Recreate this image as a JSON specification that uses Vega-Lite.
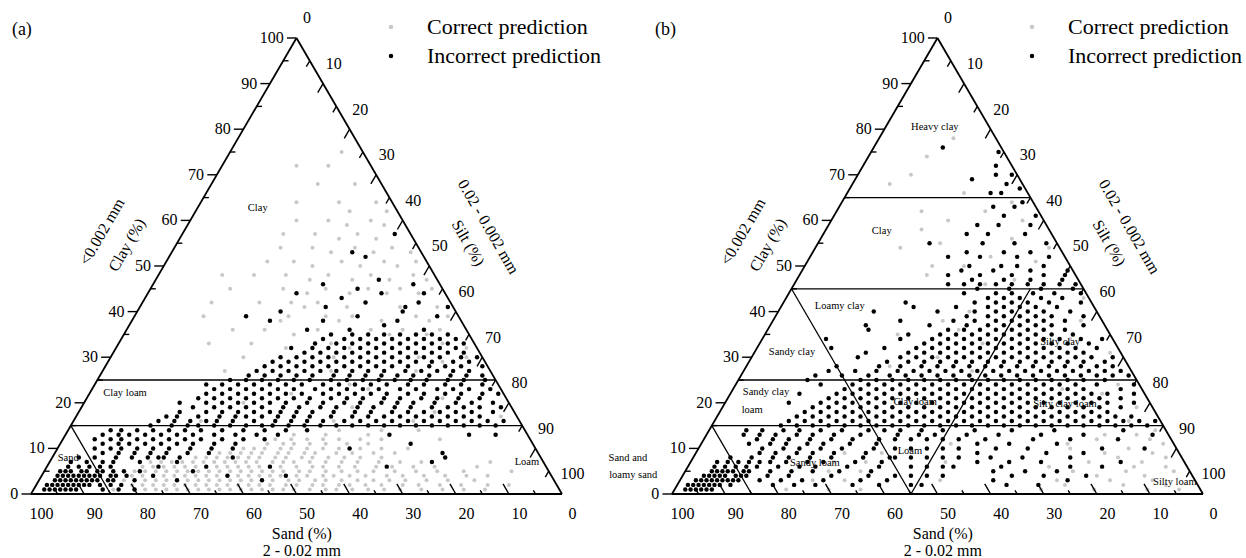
{
"$schema": "https://vega.github.io/schema/vega-lite/v6.json",
"padding": 0,
"background": "white",
"bounds": "flush",
"spacing": 19,
"config": {"view": {"stroke": null}, "font": "Liberation Serif", "text": {"font": "Liberation Serif"}},
"resolve": {"scale": {"color": "independent"}},
"datasets": {
"edges": [{"s":100,"c":0,"s2":0,"c2":100},{"s":0,"c":100,"s2":0,"c2":0},{"s":0,"c":0,"s2":100,"c2":0}],
"linesA": [{"s":85,"c":15,"s2":0,"c2":15},{"s":75,"c":25,"s2":0,"c2":25},{"s":85,"c":15,"s2":85,"c2":0}],
"linesB": [{"s":35,"c":65,"s2":0,"c2":65},{"s":55,"c":45,"s2":0,"c2":45},{"s":75,"c":25,"s2":0,"c2":25},{"s":85,"c":15,"s2":0,"c2":15},{"s":85,"c":15,"s2":85,"c2":0},{"s":55,"c":45,"s2":55,"c2":0},{"s":55,"c":0,"s2":10,"c2":45}],
"ticks": [
{"s":100,"c":0,"s2":101.8,"c2":0},{"s":90,"c":10,"s2":91.8,"c2":10},{"s":80,"c":20,"s2":81.8,"c2":20},{"s":70,"c":30,"s2":71.8,"c2":30},{"s":60,"c":40,"s2":61.8,"c2":40},{"s":50,"c":50,"s2":51.8,"c2":50},{"s":40,"c":60,"s2":41.8,"c2":60},{"s":30,"c":70,"s2":31.8,"c2":70},{"s":20,"c":80,"s2":21.8,"c2":80},{"s":10,"c":90,"s2":11.8,"c2":90},{"s":0,"c":100,"s2":1.8,"c2":100},
{"s":95,"c":5,"s2":94,"c2":5},{"s":85,"c":15,"s2":84,"c2":15},{"s":75,"c":25,"s2":74,"c2":25},{"s":65,"c":35,"s2":64,"c2":35},{"s":55,"c":45,"s2":54,"c2":45},{"s":45,"c":55,"s2":44,"c2":55},{"s":35,"c":65,"s2":34,"c2":65},{"s":25,"c":75,"s2":24,"c2":75},{"s":15,"c":85,"s2":14,"c2":85},{"s":5,"c":95,"s2":4,"c2":95},
{"s":0,"c":95,"s2":1.3,"c2":93.7},{"s":0,"c":90,"s2":2,"c2":88},{"s":0,"c":85,"s2":1.3,"c2":83.7},{"s":0,"c":80,"s2":2,"c2":78},{"s":0,"c":75,"s2":1.3,"c2":73.7},{"s":0,"c":70,"s2":2,"c2":68},{"s":0,"c":65,"s2":1.3,"c2":63.7},{"s":0,"c":60,"s2":2,"c2":58},{"s":0,"c":55,"s2":1.3,"c2":53.7},{"s":0,"c":50,"s2":2,"c2":48},{"s":0,"c":45,"s2":1.3,"c2":43.7},{"s":0,"c":40,"s2":2,"c2":38},{"s":0,"c":35,"s2":1.3,"c2":33.7},{"s":0,"c":30,"s2":2,"c2":28},{"s":0,"c":25,"s2":1.3,"c2":23.7},{"s":0,"c":20,"s2":2,"c2":18},{"s":0,"c":15,"s2":1.3,"c2":13.7},{"s":0,"c":10,"s2":2,"c2":8},{"s":0,"c":5,"s2":1.3,"c2":3.7},
{"s":10,"c":0,"s2":10,"c2":2.2},{"s":20,"c":0,"s2":20,"c2":2.2},{"s":30,"c":0,"s2":30,"c2":2.2},{"s":40,"c":0,"s2":40,"c2":2.2},{"s":50,"c":0,"s2":50,"c2":2.2},{"s":60,"c":0,"s2":60,"c2":2.2},{"s":70,"c":0,"s2":70,"c2":2.2},{"s":80,"c":0,"s2":80,"c2":2.2},{"s":90,"c":0,"s2":90,"c2":2.2},
{"s":5,"c":0,"s2":5,"c2":0.8},{"s":15,"c":0,"s2":15,"c2":0.8},{"s":25,"c":0,"s2":25,"c2":0.8},{"s":35,"c":0,"s2":35,"c2":0.8},{"s":45,"c":0,"s2":45,"c2":0.8},{"s":55,"c":0,"s2":55,"c2":0.8},{"s":65,"c":0,"s2":65,"c2":0.8},{"s":75,"c":0,"s2":75,"c2":0.8},{"s":85,"c":0,"s2":85,"c2":0.8},{"s":95,"c":0,"s2":95,"c2":0.8}],
"tlL": [{"t":"0","x":-2.4,"y":0},{"t":"10","x":2.6,"y":10},{"t":"20","x":7.6,"y":20},{"t":"30","x":12.6,"y":30},{"t":"40","x":17.6,"y":40},{"t":"50","x":22.6,"y":50},{"t":"60","x":27.6,"y":60},{"t":"70","x":32.6,"y":70},{"t":"80","x":37.6,"y":80},{"t":"90","x":42.6,"y":90},{"t":"100","x":47.6,"y":100}],
"tlR": [{"t":"0","x":52,"y":104.3},{"t":"10","x":57,"y":94.3},{"t":"20","x":62,"y":84.3},{"t":"30","x":67,"y":74.3},{"t":"40","x":72,"y":64.3},{"t":"50","x":77,"y":54.3},{"t":"60","x":82,"y":44.3},{"t":"70","x":87,"y":34.3},{"t":"80","x":92,"y":24.3},{"t":"90","x":97,"y":14.3},{"t":"100","x":102,"y":4.3}],
"tlB": [{"t":"100","x":2,"y":-4.3},{"t":"90","x":12,"y":-4.3},{"t":"80","x":22,"y":-4.3},{"t":"70","x":32,"y":-4.3},{"t":"60","x":42,"y":-4.3},{"t":"50","x":52,"y":-4.3},{"t":"40","x":62,"y":-4.3},{"t":"30","x":72,"y":-4.3},{"t":"20","x":82,"y":-4.3},{"t":"10","x":92,"y":-4.3},{"t":"0","x":102,"y":-4.3}],
"ttB": [{"t":"Sand (%)","x":51,"y":-8.7},{"t":"2 - 0.02 mm","x":51,"y":-12.5}],
"ttL": [{"t":"Clay (%)","x":18.1,"y":54.6},{"t":"<0.002 mm","x":13.4,"y":57.5}],
"ttR": [{"t":"Silt (%)","x":82.3,"y":55.0},{"t":"0.02 - 0.002 mm","x":86.1,"y":58.6}],
"regA": [{"t":"Clay","x":42.7,"y":62.7},{"t":"Clay loam","x":17.7,"y":22.1},{"t":"Sand","x":7.0,"y":7.9},{"t":"Loam","x":93.4,"y":7.0}],
"regB": [{"t":"Heavy clay","x":49.5,"y":80.5},{"t":"Clay","x":39.5,"y":57.7},{"t":"Loamy clay","x":31.6,"y":41.2},{"t":"Sandy clay","x":22.6,"y":31.1},{"t":"Sandy clay","x":17.7,"y":22.4},{"t":"loam","x":15.1,"y":18.4},{"t":"Clay loam","x":45.8,"y":20.2},{"t":"Silty clay","x":73.1,"y":33.3},{"t":"Silty clay loam","x":74.0,"y":19.7},{"t":"Loam","x":44.8,"y":9.4},{"t":"Sandy loam","x":26.9,"y":6.8},{"t":"Silty loam","x":94.7,"y":2.6},{"t":"Sand and","x":-8.3,"y":7.9},{"t":"loamy sand","x":-7.3,"y":4.2}],
"tagA": [{"t":"(a)","x":-3.6,"y":101.8}],
"tagB": [{"t":"(b)","x":-3.2,"y":101.8}],
"aC": [
{"s":84,"c":1},{"s":80,"c":1},{"s":76,"c":1},{"s":72,"c":1},{"s":68,"c":1},{"s":64,"c":1},{"s":60,"c":1},{"s":56,"c":1},{"s":52,"c":1},{"s":47,"c":1},{"s":42,"c":1},{"s":36,"c":1},{"s":30,"c":1},{"s":22,"c":1},{"s":14,"c":1},
{"s":86,"c":1},{"s":78,"c":1},{"s":74,"c":1},{"s":70,"c":1},{"s":66,"c":1},{"s":62,"c":1},{"s":58,"c":1},{"s":54,"c":1},{"s":50,"c":1},{"s":44,"c":1},{"s":39,"c":1},{"s":33,"c":1},{"s":26,"c":1},{"s":18,"c":1},
{"s":82,"c":2},{"s":78,"c":2},{"s":74,"c":2},{"s":70,"c":2},{"s":66,"c":2},{"s":62,"c":2},{"s":58,"c":2},{"s":54,"c":2},{"s":49,"c":2},{"s":44,"c":2},{"s":39,"c":2},{"s":33,"c":2},{"s":26,"c":2},{"s":18,"c":2},{"s":9,"c":2},
{"s":80,"c":2},{"s":76,"c":2},{"s":72,"c":2},{"s":68,"c":2},{"s":64,"c":2},{"s":60,"c":2},{"s":56,"c":2},{"s":51,"c":2},{"s":46,"c":2},{"s":41,"c":2},{"s":36,"c":2},{"s":29,"c":2},{"s":22,"c":2},{"s":13,"c":2},
{"s":81,"c":3},{"s":77,"c":3},{"s":73,"c":3},{"s":69,"c":3},{"s":65,"c":3},{"s":61,"c":3},{"s":57,"c":3},{"s":53,"c":3},{"s":48,"c":3},{"s":43,"c":3},{"s":37,"c":3},{"s":31,"c":3},{"s":24,"c":3},{"s":15,"c":3},
{"s":79,"c":3},{"s":75,"c":3},{"s":71,"c":3},{"s":67,"c":3},{"s":63,"c":3},{"s":59,"c":3},{"s":55,"c":3},{"s":50,"c":3},{"s":45,"c":3},{"s":40,"c":3},{"s":34,"c":3},{"s":28,"c":3},{"s":20,"c":3},
{"s":79,"c":4},{"s":75,"c":4},{"s":71,"c":4},{"s":67,"c":4},{"s":63,"c":4},{"s":59,"c":4},{"s":55,"c":4},{"s":51,"c":4},{"s":46,"c":4},{"s":41,"c":4},{"s":35,"c":4},{"s":28,"c":4},{"s":20,"c":4},{"s":12,"c":4},
{"s":77,"c":4},{"s":73,"c":4},{"s":69,"c":4},{"s":65,"c":4},{"s":61,"c":4},{"s":57,"c":4},{"s":53,"c":4},{"s":48,"c":4},{"s":43,"c":4},{"s":38,"c":4},{"s":31,"c":4},{"s":24,"c":4},{"s":16,"c":4},
{"s":78,"c":5},{"s":74,"c":5},{"s":70,"c":5},{"s":66,"c":5},{"s":62,"c":5},{"s":58,"c":5},{"s":54,"c":5},{"s":50,"c":5},{"s":45,"c":5},{"s":39,"c":5},{"s":33,"c":5},{"s":25,"c":5},{"s":16,"c":5},{"s":7,"c":5},
{"s":76,"c":5},{"s":72,"c":5},{"s":68,"c":5},{"s":64,"c":5},{"s":60,"c":5},{"s":56,"c":5},{"s":52,"c":5},{"s":47,"c":5},{"s":42,"c":5},{"s":36,"c":5},{"s":29,"c":5},{"s":21,"c":5},
{"s":76,"c":6},{"s":72,"c":6},{"s":68,"c":6},{"s":64,"c":6},{"s":60,"c":6},{"s":56,"c":6},{"s":52,"c":6},{"s":47,"c":6},{"s":42,"c":6},{"s":36,"c":6},{"s":29,"c":6},{"s":21,"c":6},{"s":13,"c":6},
{"s":74,"c":6},{"s":70,"c":6},{"s":66,"c":6},{"s":62,"c":6},{"s":58,"c":6},{"s":54,"c":6},{"s":50,"c":6},{"s":44,"c":6},{"s":39,"c":6},{"s":32,"c":6},{"s":25,"c":6},
{"s":74,"c":7},{"s":70,"c":7},{"s":66,"c":7},{"s":62,"c":7},{"s":58,"c":7},{"s":54,"c":7},{"s":49,"c":7},{"s":44,"c":7},{"s":38,"c":7},{"s":31,"c":7},{"s":23,"c":7},{"s":10,"c":7},
{"s":72,"c":7},{"s":68,"c":7},{"s":64,"c":7},{"s":60,"c":7},{"s":56,"c":7},{"s":51,"c":7},{"s":47,"c":7},{"s":41,"c":7},{"s":35,"c":7},{"s":27,"c":7},
{"s":65,"c":8},{"s":61,"c":8},{"s":57,"c":8},{"s":53,"c":8},{"s":48,"c":8},{"s":43,"c":8},{"s":37,"c":8},{"s":30,"c":8},{"s":18,"c":8},
{"s":63,"c":8},{"s":59,"c":8},{"s":55,"c":8},{"s":50,"c":8},{"s":45,"c":8},{"s":40,"c":8},{"s":34,"c":8},
{"s":60,"c":9},{"s":56,"c":9},{"s":52,"c":9},{"s":47,"c":9},{"s":42,"c":9},{"s":35,"c":9},{"s":27,"c":9},
{"s":58,"c":9},{"s":54,"c":9},{"s":49,"c":9},{"s":44,"c":9},{"s":38,"c":9},{"s":31,"c":9},
{"s":55,"c":10},{"s":51,"c":10},{"s":46,"c":10},{"s":40,"c":10},{"s":33,"c":10},{"s":24,"c":10},
{"s":53,"c":10},{"s":48,"c":10},{"s":43,"c":10},{"s":37,"c":10},{"s":29,"c":10},
{"s":50,"c":11},{"s":45,"c":11},{"s":39,"c":11},{"s":31,"c":11},{"s":47,"c":11},{"s":42,"c":11},{"s":35,"c":11},
{"s":48,"c":12},{"s":42,"c":12},{"s":36,"c":12},{"s":28,"c":12},{"s":17,"c":12},{"s":45,"c":12},{"s":39,"c":12},{"s":32,"c":12},
{"s":44,"c":13},{"s":38,"c":13},{"s":30,"c":13},{"s":35,"c":14},{"s":27,"c":14},{"s":20,"c":14},
{"s":60,"c":16},{"s":45,"c":17},{"s":30,"c":19},{"s":15,"c":18},{"s":5,"c":21},{"s":40,"c":22},{"s":25,"c":23},{"s":50,"c":20},{"s":10,"c":24},{"s":35,"c":16},
{"s":55,"c":18},{"s":42,"c":20},{"s":20,"c":16},{"s":12,"c":21},{"s":28,"c":24},{"s":38,"c":18},{"s":48,"c":23},{"s":3,"c":17},
{"s":50,"c":27},{"s":30,"c":27},{"s":14,"c":27},{"s":40,"c":29},{"s":22,"c":29},{"s":8,"c":29},{"s":45,"c":30},{"s":28,"c":30},{"s":12,"c":30},{"s":3,"c":30},
{"s":36,"c":32},{"s":24,"c":32},{"s":10,"c":32},{"s":2,"c":32},
{"s":42,"c":33},{"s":27,"c":33},{"s":20,"c":33},{"s":6,"c":33},{"s":50,"c":33},
{"s":33,"c":35},{"s":22,"c":35},{"s":15,"c":35},{"s":8,"c":35},
{"s":38,"c":36},{"s":28,"c":36},{"s":18,"c":36},{"s":5,"c":36},{"s":12,"c":36},{"s":44,"c":36},
{"s":34,"c":38},{"s":23,"c":38},{"s":15,"c":38},{"s":6,"c":38},
{"s":40,"c":39},{"s":32,"c":39},{"s":20,"c":39},{"s":8,"c":39},{"s":2,"c":39},{"s":25,"c":39},{"s":48,"c":39},
{"s":28,"c":41},{"s":20,"c":41},{"s":10,"c":41},{"s":3,"c":41},
{"s":36,"c":42},{"s":25,"c":42},{"s":16,"c":42},{"s":6,"c":42},{"s":30,"c":42},{"s":45,"c":42},
{"s":26,"c":44},{"s":18,"c":44},{"s":11,"c":44},{"s":5,"c":44},
{"s":30,"c":45},{"s":22,"c":45},{"s":14,"c":45},{"s":8,"c":45},{"s":2,"c":45},{"s":40,"c":45},
{"s":24,"c":47},{"s":16,"c":47},{"s":9,"c":47},{"s":2,"c":47},
{"s":28,"c":48},{"s":20,"c":48},{"s":12,"c":48},{"s":4,"c":48},{"s":34,"c":48},{"s":40,"c":48},
{"s":22,"c":50},{"s":13,"c":50},{"s":6,"c":50},
{"s":25,"c":51},{"s":16,"c":51},{"s":8,"c":51},{"s":2,"c":51},{"s":30,"c":51},
{"s":17,"c":53},{"s":9,"c":53},{"s":2,"c":53},
{"s":20,"c":54},{"s":12,"c":54},{"s":5,"c":54},{"s":26,"c":54},
{"s":14,"c":56},{"s":7,"c":56},
{"s":18,"c":57},{"s":10,"c":57},{"s":3,"c":57},{"s":24,"c":57},
{"s":11,"c":59},{"s":4,"c":59},
{"s":14,"c":60},{"s":6,"c":60},{"s":20,"c":60},{"s":9,"c":62},{"s":2,"c":62},{"s":10,"c":64},{"s":3,"c":64},{"s":18,"c":64},
{"s":12,"c":68},{"s":5,"c":68},{"s":8,"c":72},{"s":14,"c":72},{"s":4,"c":75}],
"aI": [
{"s":80,"c":1},{"s":83,"c":1},{"s":86,"c":1},{"s":91,"c":1},{"s":92,"c":1},{"s":93,"c":1},{"s":94,"c":1},{"s":95,"c":1},{"s":96,"c":1},{"s":97,"c":1},
{"s":82,"c":2},{"s":84,"c":2},{"s":86,"c":2},{"s":88,"c":2},{"s":89,"c":2},{"s":90,"c":2},{"s":91,"c":2},{"s":92,"c":2},{"s":93,"c":2},{"s":94,"c":2},{"s":95,"c":2},{"s":96,"c":2},
{"s":79,"c":3},{"s":71,"c":3},{"s":55,"c":3},{"s":83,"c":3},{"s":84,"c":3},{"s":86,"c":3},{"s":87,"c":3},{"s":88,"c":3},{"s":89,"c":3},{"s":90,"c":3},{"s":91,"c":3},{"s":92,"c":3},{"s":93,"c":3},{"s":94,"c":3},
{"s":75,"c":4},{"s":61,"c":4},{"s":80,"c":4},{"s":82,"c":4},{"s":83,"c":4},{"s":85,"c":4},{"s":86,"c":4},{"s":87,"c":4},{"s":88,"c":4},{"s":89,"c":4},{"s":90,"c":4},{"s":91,"c":4},{"s":92,"c":4},{"s":93,"c":4},{"s":50,"c":4},
{"s":77,"c":5},{"s":67,"c":5},{"s":80,"c":5},{"s":82,"c":5},{"s":84,"c":5},{"s":85,"c":5},{"s":87,"c":5},{"s":88,"c":5},{"s":90,"c":5},{"s":91,"c":5},{"s":92,"c":5},
{"s":73,"c":6},{"s":64,"c":6},{"s":52,"c":6},{"s":82,"c":6},{"s":84,"c":6},{"s":86,"c":6},{"s":88,"c":6},{"s":90,"c":6},{"s":30,"c":6},
{"s":69,"c":7},{"s":76,"c":7},{"s":81,"c":7},{"s":83,"c":7},{"s":86,"c":7},{"s":89,"c":7},{"s":21,"c":7},
{"s":58,"c":8},{"s":72,"c":8},{"s":80,"c":8},{"s":84,"c":8},{"s":87,"c":8},{"s":77,"c":8},{"s":74,"c":8},{"s":71,"c":8},{"s":68,"c":8},{"s":18,"c":8},
{"s":82,"c":9},{"s":79,"c":9},{"s":76,"c":9},{"s":73,"c":9},{"s":70,"c":9},{"s":66,"c":9},{"s":62,"c":9},{"s":18,"c":9},
{"s":83,"c":10},{"s":80,"c":10},{"s":78,"c":10},{"s":75,"c":10},{"s":72,"c":10},{"s":69,"c":10},{"s":65,"c":10},{"s":61,"c":10},{"s":57,"c":10},{"s":35,"c":10},
{"s":81,"c":11},{"s":78,"c":11},{"s":76,"c":11},{"s":73,"c":11},{"s":70,"c":11},{"s":67,"c":11},{"s":64,"c":11},{"s":60,"c":11},{"s":56,"c":11},{"s":23,"c":11},
{"s":82,"c":12},{"s":79,"c":12},{"s":77,"c":12},{"s":74,"c":12},{"s":71,"c":12},{"s":68,"c":12},{"s":65,"c":12},{"s":62,"c":12},{"s":58,"c":12},{"s":54,"c":12},{"s":50,"c":12},
{"s":80,"c":13},{"s":77,"c":13},{"s":75,"c":13},{"s":72,"c":13},{"s":69,"c":13},{"s":66,"c":13},{"s":63,"c":13},{"s":59,"c":13},{"s":55,"c":13},{"s":51,"c":13},{"s":47,"c":13},{"s":11,"c":13},{"s":6,"c":13},{"s":26,"c":13},
{"s":78,"c":14},{"s":76,"c":14},{"s":73,"c":14},{"s":70,"c":14},{"s":67,"c":14},{"s":64,"c":14},{"s":61,"c":14},{"s":57,"c":14},{"s":53,"c":14},{"s":49,"c":14},{"s":45,"c":14},{"s":41,"c":14},
{"s":70,"c":15},{"s":66,"c":15},{"s":63,"c":15},{"s":61,"c":15},{"s":58,"c":15},{"s":55,"c":15},{"s":52,"c":15},{"s":49,"c":15},{"s":47,"c":15},{"s":44,"c":15},{"s":41,"c":15},{"s":38,"c":15},{"s":35,"c":15},{"s":32,"c":15},{"s":29,"c":15},{"s":26,"c":15},{"s":23,"c":15},{"s":20,"c":15},{"s":17,"c":15},{"s":14,"c":15},{"s":11,"c":15},{"s":8,"c":15},{"s":5,"c":15},
{"s":68,"c":16},{"s":65,"c":16},{"s":62,"c":16},{"s":59,"c":16},{"s":57,"c":16},{"s":54,"c":16},{"s":50,"c":16},{"s":46,"c":16},{"s":43,"c":16},{"s":40,"c":16},{"s":37,"c":16},{"s":33,"c":16},{"s":30,"c":16},{"s":27,"c":16},{"s":24,"c":16},{"s":21,"c":16},{"s":18,"c":16},{"s":15,"c":16},{"s":12,"c":16},{"s":9,"c":16},{"s":6,"c":16},{"s":3,"c":16},
{"s":66,"c":17},{"s":64,"c":17},{"s":60,"c":17},{"s":56,"c":17},{"s":53,"c":17},{"s":51,"c":17},{"s":48,"c":17},{"s":45,"c":17},{"s":42,"c":17},{"s":39,"c":17},{"s":35,"c":17},{"s":31,"c":17},{"s":28,"c":17},{"s":25,"c":17},{"s":22,"c":17},{"s":19,"c":17},{"s":16,"c":17},{"s":13,"c":17},{"s":10,"c":17},{"s":7,"c":17},
{"s":63,"c":18},{"s":58,"c":18},{"s":55,"c":18},{"s":52,"c":18},{"s":49,"c":18},{"s":46,"c":18},{"s":44,"c":18},{"s":41,"c":18},{"s":38,"c":18},{"s":34,"c":18},{"s":30,"c":18},{"s":27,"c":18},{"s":23,"c":18},{"s":20,"c":18},{"s":17,"c":18},{"s":14,"c":18},{"s":11,"c":18},{"s":8,"c":18},{"s":4,"c":18},
{"s":60,"c":19},{"s":56,"c":19},{"s":53,"c":19},{"s":50,"c":19},{"s":47,"c":19},{"s":43,"c":19},{"s":40,"c":19},{"s":36,"c":19},{"s":33,"c":19},{"s":29,"c":19},{"s":26,"c":19},{"s":22,"c":19},{"s":19,"c":19},{"s":15,"c":19},{"s":12,"c":19},{"s":9,"c":19},{"s":6,"c":19},{"s":2,"c":19},
{"s":62,"c":20},{"s":57,"c":20},{"s":54,"c":20},{"s":51,"c":20},{"s":48,"c":20},{"s":45,"c":20},{"s":42,"c":20},{"s":38,"c":20},{"s":35,"c":20},{"s":31,"c":20},{"s":28,"c":20},{"s":24,"c":20},{"s":21,"c":20},{"s":18,"c":20},{"s":14,"c":20},{"s":10,"c":20},{"s":7,"c":20},{"s":3,"c":20},
{"s":58,"c":21},{"s":55,"c":21},{"s":52,"c":21},{"s":49,"c":21},{"s":46,"c":21},{"s":43,"c":21},{"s":40,"c":21},{"s":37,"c":21},{"s":33,"c":21},{"s":30,"c":21},{"s":27,"c":21},{"s":23,"c":21},{"s":20,"c":21},{"s":16,"c":21},{"s":13,"c":21},{"s":9,"c":21},{"s":5,"c":21},
{"s":56,"c":22},{"s":53,"c":22},{"s":50,"c":22},{"s":47,"c":22},{"s":44,"c":22},{"s":41,"c":22},{"s":38,"c":22},{"s":34,"c":22},{"s":31,"c":22},{"s":28,"c":22},{"s":25,"c":22},{"s":22,"c":22},{"s":18,"c":22},{"s":15,"c":22},{"s":11,"c":22},{"s":8,"c":22},{"s":4,"c":22},{"s":1,"c":22},
{"s":54,"c":23},{"s":51,"c":23},{"s":48,"c":23},{"s":45,"c":23},{"s":42,"c":23},{"s":39,"c":23},{"s":35,"c":23},{"s":32,"c":23},{"s":29,"c":23},{"s":26,"c":23},{"s":23,"c":23},{"s":19,"c":23},{"s":16,"c":23},{"s":12,"c":23},{"s":9,"c":23},{"s":6,"c":23},{"s":2,"c":23},
{"s":55,"c":24},{"s":52,"c":24},{"s":49,"c":24},{"s":46,"c":24},{"s":43,"c":24},{"s":40,"c":24},{"s":37,"c":24},{"s":33,"c":24},{"s":30,"c":24},{"s":27,"c":24},{"s":24,"c":24},{"s":21,"c":24},{"s":17,"c":24},{"s":14,"c":24},{"s":10,"c":24},{"s":7,"c":24},{"s":3,"c":24},
{"s":50,"c":25},{"s":47,"c":25},{"s":44,"c":25},{"s":41,"c":25},{"s":38,"c":25},{"s":35,"c":25},{"s":31,"c":25},{"s":28,"c":25},{"s":25,"c":25},{"s":22,"c":25},{"s":19,"c":25},{"s":16,"c":25},{"s":13,"c":25},{"s":9,"c":25},{"s":6,"c":25},{"s":2,"c":25},
{"s":46,"c":26},{"s":43,"c":26},{"s":40,"c":26},{"s":37,"c":26},{"s":34,"c":26},{"s":30,"c":26},{"s":27,"c":26},{"s":24,"c":26},{"s":21,"c":26},{"s":18,"c":26},{"s":15,"c":26},{"s":12,"c":26},{"s":8,"c":26},{"s":5,"c":26},{"s":2,"c":26},
{"s":44,"c":27},{"s":41,"c":27},{"s":38,"c":27},{"s":35,"c":27},{"s":32,"c":27},{"s":29,"c":27},{"s":26,"c":27},{"s":23,"c":27},{"s":20,"c":27},{"s":16,"c":27},{"s":13,"c":27},{"s":10,"c":27},{"s":7,"c":27},{"s":4,"c":27},
{"s":42,"c":28},{"s":39,"c":28},{"s":36,"c":28},{"s":33,"c":28},{"s":30,"c":28},{"s":27,"c":28},{"s":24,"c":28},{"s":21,"c":28},{"s":18,"c":28},{"s":15,"c":28},{"s":11,"c":28},{"s":8,"c":28},{"s":5,"c":28},{"s":1,"c":28},
{"s":40,"c":29},{"s":37,"c":29},{"s":34,"c":29},{"s":31,"c":29},{"s":28,"c":29},{"s":25,"c":29},{"s":22,"c":29},{"s":19,"c":29},{"s":16,"c":29},{"s":13,"c":29},{"s":10,"c":29},{"s":6,"c":29},{"s":3,"c":29},
{"s":38,"c":30},{"s":35,"c":30},{"s":32,"c":30},{"s":29,"c":30},{"s":26,"c":30},{"s":23,"c":30},{"s":20,"c":30},{"s":17,"c":30},{"s":14,"c":30},{"s":11,"c":30},{"s":8,"c":30},{"s":4,"c":30},{"s":1,"c":30},
{"s":33,"c":31},{"s":30,"c":31},{"s":27,"c":31},{"s":24,"c":31},{"s":21,"c":31},{"s":18,"c":31},{"s":15,"c":31},{"s":12,"c":31},{"s":9,"c":31},{"s":6,"c":31},{"s":3,"c":31},
{"s":35,"c":32},{"s":31,"c":32},{"s":28,"c":32},{"s":25,"c":32},{"s":22,"c":32},{"s":19,"c":32},{"s":16,"c":32},{"s":13,"c":32},{"s":10,"c":32},{"s":7,"c":32},{"s":4,"c":32},
{"s":30,"c":33},{"s":26,"c":33},{"s":23,"c":33},{"s":20,"c":33},{"s":17,"c":33},{"s":14,"c":33},{"s":11,"c":33},{"s":8,"c":33},{"s":5,"c":33},{"s":2,"c":33},
{"s":28,"c":34},{"s":24,"c":34},{"s":21,"c":34},{"s":18,"c":34},{"s":15,"c":34},{"s":12,"c":34},{"s":9,"c":34},{"s":6,"c":34},{"s":3,"c":34},
{"s":26,"c":35},{"s":22,"c":35},{"s":19,"c":35},{"s":16,"c":35},{"s":13,"c":35},{"s":10,"c":35},{"s":7,"c":35},{"s":4,"c":35},
{"s":30,"c":36},{"s":22,"c":36},{"s":15,"c":37},{"s":8,"c":36},{"s":26,"c":38},{"s":12,"c":38},{"s":36,"c":38},{"s":4,"c":39},{"s":19,"c":39},{"s":40,"c":39},{"s":33,"c":40},{"s":10,"c":40},{"s":9,"c":41},{"s":24,"c":41},{"s":1,"c":41},{"s":16,"c":42},{"s":6,"c":42},{"s":20,"c":43},{"s":12,"c":44},{"s":28,"c":44},{"s":4,"c":44},
{"s":22,"c":46},{"s":13,"c":53},{"s":11,"c":47},{"s":16,"c":45},{"s":5,"c":46},{"s":3,"c":57},{"s":11,"c":52}],
"bC": [
{"s":30,"c":1},{"s":20,"c":1},{"s":10,"c":1},{"s":4,"c":1},{"s":26,"c":3},{"s":16,"c":3},{"s":8,"c":3},{"s":22,"c":5},{"s":12,"c":5},{"s":3,"c":5},{"s":18,"c":7},{"s":8,"c":7},{"s":14,"c":9},{"s":5,"c":9},{"s":20,"c":11},{"s":2,"c":11},{"s":12,"c":13},{"s":6,"c":13},
{"s":25,"c":2},{"s":14,"c":2},{"s":6,"c":2},{"s":18,"c":4},{"s":9,"c":4},{"s":26,"c":6},{"s":10,"c":6},{"s":4,"c":6},{"s":12,"c":8},{"s":3,"c":8},{"s":20,"c":10},{"s":9,"c":10},{"s":4,"c":12},{"s":14,"c":12},{"s":2,"c":14},
{"s":78,"c":1},{"s":70,"c":1},{"s":64,"c":1},{"s":72,"c":3},{"s":66,"c":3},{"s":68,"c":5},{"s":62,"c":5},{"s":66,"c":7},{"s":60,"c":7},{"s":63,"c":9},{"s":56,"c":9},
{"s":48,"c":3},{"s":45,"c":7},{"s":42,"c":11},
{"s":6,"c":16},{"s":3,"c":19},{"s":8,"c":22},{"s":4,"c":24},{"s":12,"c":18},{"s":15,"c":23},
{"s":5,"c":27},{"s":2,"c":31},{"s":8,"c":34},{"s":4,"c":38},{"s":10,"c":40},{"s":1,"c":43},{"s":6,"c":30},{"s":12,"c":36},
{"s":28,"c":48},{"s":20,"c":50},{"s":14,"c":52},{"s":30,"c":54},{"s":8,"c":56},{"s":24,"c":58},{"s":18,"c":60},{"s":10,"c":62},{"s":4,"c":60},{"s":26,"c":50},{"s":22,"c":62},{"s":16,"c":57},
{"s":12,"c":47},{"s":6,"c":51},{"s":2,"c":54},{"s":18,"c":46},{"s":22,"c":55},{"s":4,"c":64},{"s":12,"c":66},
{"s":20,"c":70},{"s":15,"c":74},{"s":8,"c":78},{"s":25,"c":68},
{"s":35,"c":30},{"s":40,"c":35},{"s":30,"c":38},{"s":45,"c":28},{"s":25,"c":33},{"s":28,"c":36},{"s":24,"c":40},{"s":20,"c":32},{"s":30,"c":27}],
"bI": [
{"s":11,"c":76},{"s":1,"c":75},{"s":3,"c":72},{"s":1,"c":70},{"s":4,"c":70},{"s":9,"c":69},{"s":1,"c":67},{"s":5,"c":66},{"s":7,"c":66},{"s":3,"c":68},
{"s":2,"c":64},{"s":8,"c":63},{"s":4,"c":63},{"s":7,"c":61},{"s":1,"c":61},{"s":13,"c":59},{"s":9,"c":59},{"s":3,"c":59},{"s":16,"c":57},{"s":12,"c":57},{"s":5,"c":57},
{"s":24,"c":55},{"s":14,"c":55},{"s":8,"c":55},{"s":2,"c":55},{"s":18,"c":53},{"s":11,"c":53},{"s":6,"c":53},{"s":22,"c":52},{"s":16,"c":52},{"s":9,"c":52},{"s":3,"c":52},
{"s":19,"c":50},{"s":13,"c":50},{"s":10,"c":50},{"s":5,"c":50},{"s":21,"c":49},{"s":15,"c":49},{"s":8,"c":49},{"s":1,"c":49},{"s":24,"c":48},{"s":18,"c":48},{"s":12,"c":48},{"s":6,"c":48},{"s":2,"c":48},
{"s":20,"c":47},{"s":14,"c":47},{"s":9,"c":47},{"s":3,"c":47},{"s":25,"c":46},{"s":22,"c":46},{"s":19,"c":46},{"s":16,"c":46},{"s":13,"c":46},{"s":10,"c":46},{"s":7,"c":46},{"s":4,"c":46},{"s":1,"c":46},
{"s":20,"c":45},{"s":14,"c":45},{"s":8,"c":45},{"s":2,"c":45},
{"s":23,"c":44},{"s":17,"c":44},{"s":14,"c":44},{"s":10,"c":44},{"s":6,"c":44},{"s":1,"c":44},
{"s":19,"c":43},{"s":16,"c":43},{"s":13,"c":43},{"s":9,"c":43},{"s":5,"c":43},
{"s":35,"c":42},{"s":22,"c":42},{"s":18,"c":42},{"s":15,"c":42},{"s":12,"c":42},{"s":8,"c":42},{"s":2,"c":42},
{"s":34,"c":41},{"s":26,"c":41},{"s":20,"c":41},{"s":17,"c":41},{"s":14,"c":41},{"s":11,"c":41},{"s":7,"c":41},
{"s":42,"c":40},{"s":30,"c":40},{"s":23,"c":40},{"s":19,"c":40},{"s":16,"c":40},{"s":13,"c":40},{"s":10,"c":40},{"s":5,"c":40},
{"s":25,"c":39},{"s":21,"c":39},{"s":18,"c":39},{"s":15,"c":39},{"s":12,"c":39},{"s":9,"c":39},{"s":3,"c":39},
{"s":38,"c":38},{"s":28,"c":38},{"s":24,"c":38},{"s":20,"c":38},{"s":17,"c":38},{"s":14,"c":38},{"s":11,"c":38},{"s":7,"c":38},
{"s":45,"c":37},{"s":33,"c":37},{"s":26,"c":37},{"s":22,"c":37},{"s":19,"c":37},{"s":16,"c":37},{"s":13,"c":37},{"s":10,"c":37},{"s":4,"c":37},
{"s":45,"c":36},{"s":30,"c":36},{"s":27,"c":36},{"s":24,"c":36},{"s":21,"c":36},{"s":18,"c":36},{"s":15,"c":36},{"s":12,"c":36},{"s":8,"c":36},
{"s":38,"c":35},{"s":32,"c":35},{"s":29,"c":35},{"s":26,"c":35},{"s":23,"c":35},{"s":20,"c":35},{"s":17,"c":35},{"s":14,"c":35},{"s":11,"c":35},{"s":7,"c":35},
{"s":54,"c":34},{"s":40,"c":34},{"s":34,"c":34},{"s":31,"c":34},{"s":28,"c":34},{"s":25,"c":34},{"s":22,"c":34},{"s":19,"c":34},{"s":16,"c":34},{"s":13,"c":34},{"s":10,"c":34},{"s":6,"c":34},{"s":2,"c":34},
{"s":36,"c":33},{"s":33,"c":33},{"s":30,"c":33},{"s":27,"c":33},{"s":24,"c":33},{"s":21,"c":33},{"s":18,"c":33},{"s":15,"c":33},{"s":12,"c":33},{"s":9,"c":33},{"s":5,"c":33},
{"s":54,"c":32},{"s":44,"c":32},{"s":38,"c":32},{"s":35,"c":32},{"s":32,"c":32},{"s":29,"c":32},{"s":26,"c":32},{"s":23,"c":32},{"s":20,"c":32},{"s":17,"c":32},{"s":14,"c":32},{"s":11,"c":32},{"s":8,"c":32},{"s":4,"c":32},
{"s":48,"c":31},{"s":40,"c":31},{"s":37,"c":31},{"s":34,"c":31},{"s":31,"c":31},{"s":28,"c":31},{"s":25,"c":31},{"s":22,"c":31},{"s":19,"c":31},{"s":16,"c":31},{"s":13,"c":31},{"s":10,"c":31},{"s":7,"c":31},
{"s":50,"c":30},{"s":42,"c":30},{"s":39,"c":30},{"s":36,"c":30},{"s":33,"c":30},{"s":30,"c":30},{"s":27,"c":30},{"s":24,"c":30},{"s":21,"c":30},{"s":18,"c":30},{"s":15,"c":30},{"s":12,"c":30},{"s":9,"c":30},{"s":6,"c":30},{"s":2,"c":30},
{"s":45,"c":29},{"s":41,"c":29},{"s":38,"c":29},{"s":35,"c":29},{"s":32,"c":29},{"s":29,"c":29},{"s":26,"c":29},{"s":23,"c":29},{"s":20,"c":29},{"s":17,"c":29},{"s":14,"c":29},{"s":11,"c":29},{"s":8,"c":29},{"s":4,"c":29},
{"s":55,"c":28},{"s":47,"c":28},{"s":43,"c":28},{"s":39,"c":28},{"s":36,"c":28},{"s":33,"c":28},{"s":30,"c":28},{"s":27,"c":28},{"s":24,"c":28},{"s":21,"c":28},{"s":18,"c":28},{"s":15,"c":28},{"s":12,"c":28},{"s":9,"c":28},{"s":6,"c":28},{"s":3,"c":28},
{"s":57,"c":27},{"s":52,"c":27},{"s":48,"c":27},{"s":44,"c":27},{"s":41,"c":27},{"s":38,"c":27},{"s":35,"c":27},{"s":32,"c":27},{"s":29,"c":27},{"s":26,"c":27},{"s":23,"c":27},{"s":20,"c":27},{"s":17,"c":27},{"s":14,"c":27},{"s":11,"c":27},{"s":8,"c":27},{"s":5,"c":27},{"s":2,"c":27},
{"s":60,"c":26},{"s":55,"c":26},{"s":50,"c":26},{"s":46,"c":26},{"s":43,"c":26},{"s":40,"c":26},{"s":37,"c":26},{"s":34,"c":26},{"s":31,"c":26},{"s":28,"c":26},{"s":25,"c":26},{"s":22,"c":26},{"s":19,"c":26},{"s":16,"c":26},{"s":13,"c":26},{"s":10,"c":26},{"s":7,"c":26},{"s":4,"c":26},{"s":1,"c":26},
{"s":62,"c":25},{"s":52,"c":25},{"s":49,"c":25},{"s":46,"c":25},{"s":43,"c":25},{"s":40,"c":25},{"s":37,"c":25},{"s":34,"c":25},{"s":31,"c":25},{"s":28,"c":25},{"s":25,"c":25},{"s":22,"c":25},{"s":19,"c":25},{"s":16,"c":25},{"s":13,"c":25},{"s":10,"c":25},{"s":6,"c":25},
{"s":60,"c":24},{"s":54,"c":24},{"s":51,"c":24},{"s":48,"c":24},{"s":45,"c":24},{"s":42,"c":24},{"s":39,"c":24},{"s":36,"c":24},{"s":33,"c":24},{"s":30,"c":24},{"s":27,"c":24},{"s":24,"c":24},{"s":21,"c":24},{"s":18,"c":24},{"s":15,"c":24},{"s":12,"c":24},{"s":8,"c":24},{"s":1,"c":24},
{"s":56,"c":23},{"s":53,"c":23},{"s":50,"c":23},{"s":47,"c":23},{"s":44,"c":23},{"s":41,"c":23},{"s":38,"c":23},{"s":35,"c":23},{"s":32,"c":23},{"s":29,"c":23},{"s":26,"c":23},{"s":23,"c":23},{"s":20,"c":23},{"s":17,"c":23},{"s":14,"c":23},{"s":11,"c":23},{"s":4,"c":23},
{"s":65,"c":22},{"s":58,"c":22},{"s":55,"c":22},{"s":52,"c":22},{"s":49,"c":22},{"s":46,"c":22},{"s":43,"c":22},{"s":40,"c":22},{"s":37,"c":22},{"s":34,"c":22},{"s":31,"c":22},{"s":28,"c":22},{"s":25,"c":22},{"s":22,"c":22},{"s":19,"c":22},{"s":16,"c":22},{"s":13,"c":22},{"s":10,"c":22},{"s":7,"c":22},{"s":2,"c":22},
{"s":60,"c":21},{"s":57,"c":21},{"s":54,"c":21},{"s":51,"c":21},{"s":48,"c":21},{"s":45,"c":21},{"s":42,"c":21},{"s":39,"c":21},{"s":36,"c":21},{"s":33,"c":21},{"s":30,"c":21},{"s":27,"c":21},{"s":24,"c":21},{"s":21,"c":21},{"s":18,"c":21},{"s":15,"c":21},{"s":12,"c":21},{"s":9,"c":21},{"s":5,"c":21},
{"s":68,"c":20},{"s":62,"c":20},{"s":59,"c":20},{"s":56,"c":20},{"s":53,"c":20},{"s":50,"c":20},{"s":47,"c":20},{"s":44,"c":20},{"s":41,"c":20},{"s":38,"c":20},{"s":35,"c":20},{"s":32,"c":20},{"s":29,"c":20},{"s":26,"c":20},{"s":23,"c":20},{"s":20,"c":20},{"s":17,"c":20},{"s":14,"c":20},{"s":11,"c":20},{"s":8,"c":20},{"s":3,"c":20},
{"s":64,"c":19},{"s":61,"c":19},{"s":58,"c":19},{"s":55,"c":19},{"s":52,"c":19},{"s":49,"c":19},{"s":46,"c":19},{"s":43,"c":19},{"s":40,"c":19},{"s":37,"c":19},{"s":34,"c":19},{"s":31,"c":19},{"s":28,"c":19},{"s":25,"c":19},{"s":22,"c":19},{"s":19,"c":19},{"s":16,"c":19},{"s":13,"c":19},{"s":10,"c":19},{"s":6,"c":19},
{"s":66,"c":18},{"s":63,"c":18},{"s":60,"c":18},{"s":57,"c":18},{"s":54,"c":18},{"s":51,"c":18},{"s":48,"c":18},{"s":45,"c":18},{"s":42,"c":18},{"s":39,"c":18},{"s":36,"c":18},{"s":33,"c":18},{"s":30,"c":18},{"s":27,"c":18},{"s":24,"c":18},{"s":21,"c":18},{"s":18,"c":18},{"s":15,"c":18},{"s":12,"c":18},{"s":9,"c":18},
{"s":68,"c":17},{"s":65,"c":17},{"s":62,"c":17},{"s":59,"c":17},{"s":56,"c":17},{"s":53,"c":17},{"s":50,"c":17},{"s":47,"c":17},{"s":44,"c":17},{"s":41,"c":17},{"s":38,"c":17},{"s":35,"c":17},{"s":32,"c":17},{"s":29,"c":17},{"s":26,"c":17},{"s":23,"c":17},{"s":20,"c":17},{"s":17,"c":17},{"s":14,"c":17},{"s":11,"c":17},{"s":8,"c":17},{"s":5,"c":17},
{"s":70,"c":16},{"s":67,"c":16},{"s":64,"c":16},{"s":61,"c":16},{"s":58,"c":16},{"s":55,"c":16},{"s":52,"c":16},{"s":49,"c":16},{"s":46,"c":16},{"s":43,"c":16},{"s":40,"c":16},{"s":37,"c":16},{"s":34,"c":16},{"s":31,"c":16},{"s":28,"c":16},{"s":25,"c":16},{"s":22,"c":16},{"s":19,"c":16},{"s":16,"c":16},{"s":13,"c":16},{"s":10,"c":16},{"s":7,"c":16},{"s":4,"c":16},{"s":1,"c":16},
{"s":72,"c":15},{"s":69,"c":15},{"s":66,"c":15},{"s":63,"c":15},{"s":60,"c":15},{"s":57,"c":15},{"s":54,"c":15},{"s":51,"c":15},{"s":48,"c":15},{"s":45,"c":15},{"s":42,"c":15},{"s":39,"c":15},{"s":36,"c":15},{"s":33,"c":15},{"s":30,"c":15},{"s":27,"c":15},{"s":24,"c":15},{"s":21,"c":15},{"s":18,"c":15},{"s":15,"c":15},{"s":12,"c":15},{"s":9,"c":15},{"s":6,"c":15},{"s":3,"c":15},
{"s":79,"c":14},{"s":76,"c":14},{"s":72,"c":14},{"s":69,"c":14},{"s":65,"c":14},{"s":61,"c":14},{"s":56,"c":14},{"s":53,"c":14},{"s":50,"c":14},{"s":46,"c":14},{"s":42,"c":14},{"s":36,"c":14},{"s":29,"c":14},{"s":21,"c":14},{"s":8,"c":14},
{"s":80,"c":13},{"s":77,"c":13},{"s":74,"c":13},{"s":70,"c":13},{"s":67,"c":13},{"s":63,"c":13},{"s":58,"c":13},{"s":51,"c":13},{"s":47,"c":13},{"s":44,"c":13},{"s":38,"c":13},{"s":32,"c":13},{"s":24,"c":13},{"s":16,"c":13},{"s":3,"c":13},
{"s":78,"c":12},{"s":75,"c":12},{"s":72,"c":12},{"s":68,"c":12},{"s":64,"c":12},{"s":60,"c":12},{"s":55,"c":12},{"s":52,"c":12},{"s":49,"c":12},{"s":46,"c":12},{"s":43,"c":12},{"s":40,"c":12},{"s":35,"c":12},{"s":26,"c":12},{"s":19,"c":12},{"s":10,"c":12},
{"s":80,"c":11},{"s":76,"c":11},{"s":73,"c":11},{"s":69,"c":11},{"s":66,"c":11},{"s":61,"c":11},{"s":56,"c":11},{"s":37,"c":11},{"s":31,"c":11},{"s":22,"c":11},
{"s":78,"c":10},{"s":74,"c":10},{"s":71,"c":10},{"s":67,"c":10},{"s":63,"c":10},{"s":57,"c":10},{"s":53,"c":10},{"s":50,"c":10},{"s":47,"c":10},{"s":44,"c":10},{"s":41,"c":10},{"s":34,"c":10},{"s":28,"c":10},{"s":14,"c":10},{"s":6,"c":10},
{"s":79,"c":9},{"s":76,"c":9},{"s":72,"c":9},{"s":69,"c":9},{"s":65,"c":9},{"s":59,"c":9},{"s":38,"c":9},{"s":25,"c":9},{"s":18,"c":9},
{"s":81,"c":8},{"s":85,"c":8},{"s":77,"c":8},{"s":74,"c":8},{"s":70,"c":8},{"s":66,"c":8},{"s":60,"c":8},{"s":55,"c":8},{"s":54,"c":8},{"s":51,"c":8},{"s":48,"c":8},{"s":45,"c":8},{"s":42,"c":8},{"s":36,"c":8},{"s":30,"c":8},{"s":21,"c":8},
{"s":80,"c":7},{"s":82,"c":7},{"s":84,"c":7},{"s":86,"c":7},{"s":88,"c":7},{"s":78,"c":7},{"s":75,"c":7},{"s":71,"c":7},{"s":68,"c":7},{"s":62,"c":7},{"s":57,"c":7},{"s":39,"c":7},{"s":33,"c":7},{"s":27,"c":7},{"s":12,"c":7},
{"s":81,"c":6},{"s":83,"c":6},{"s":85,"c":6},{"s":87,"c":6},{"s":89,"c":6},{"s":77,"c":6},{"s":73,"c":6},{"s":70,"c":6},{"s":64,"c":6},{"s":58,"c":6},{"s":52,"c":6},{"s":49,"c":6},{"s":46,"c":6},{"s":44,"c":6},{"s":35,"c":6},{"s":22,"c":6},{"s":16,"c":6},
{"s":83,"c":5},{"s":84,"c":5},{"s":86,"c":5},{"s":87,"c":5},{"s":88,"c":5},{"s":89,"c":5},{"s":90,"c":5},{"s":79,"c":5},{"s":75,"c":5},{"s":71,"c":5},{"s":66,"c":5},{"s":60,"c":5},{"s":37,"c":5},{"s":31,"c":5},{"s":25,"c":5},
{"s":84,"c":4},{"s":85,"c":4},{"s":86,"c":4},{"s":88,"c":4},{"s":89,"c":4},{"s":90,"c":4},{"s":91,"c":4},{"s":92,"c":4},{"s":80,"c":4},{"s":76,"c":4},{"s":68,"c":4},{"s":61,"c":4},{"s":56,"c":4},{"s":53,"c":4},{"s":50,"c":4},{"s":47,"c":4},{"s":34,"c":4},{"s":20,"c":4},{"s":28,"c":4},
{"s":86,"c":3},{"s":87,"c":3},{"s":88,"c":3},{"s":89,"c":3},{"s":90,"c":3},{"s":91,"c":3},{"s":92,"c":3},{"s":93,"c":3},{"s":94,"c":3},{"s":82,"c":3},{"s":78,"c":3},{"s":74,"c":3},{"s":70,"c":3},{"s":63,"c":3},{"s":58,"c":3},{"s":38,"c":3},{"s":24,"c":3},
{"s":88,"c":2},{"s":90,"c":2},{"s":91,"c":2},{"s":92,"c":2},{"s":93,"c":2},{"s":94,"c":2},{"s":95,"c":2},{"s":96,"c":2},{"s":80,"c":2},{"s":76,"c":2},{"s":72,"c":2},{"s":65,"c":2},{"s":60,"c":2},{"s":54,"c":2},{"s":52,"c":2},{"s":36,"c":2},{"s":30,"c":2},
{"s":92,"c":1},{"s":93,"c":1},{"s":94,"c":1},{"s":95,"c":1},{"s":96,"c":1},{"s":97,"c":1}]
},
"hconcat": [
{
"width": 622, "height": 558,
"layer": [
{"data": {"name": "aC"}, "transform": [{"calculate": "100 - datum.s - datum.c/2", "as": "x"}],
 "mark": {"type": "point", "filled": true, "size": 16, "opacity": 1},
 "encoding": {"x": {"field": "x", "type": "quantitative", "scale": {"domain": [-5.838, 111.3], "nice": false, "zero": false}, "axis": null},
  "y": {"field": "c", "type": "quantitative", "scale": {"domain": [-14.035, 108.33], "nice": false, "zero": false}, "axis": null},
  "color": {"datum": "Correct prediction", "type": "nominal", "scale": {"domain": ["Correct prediction", "Incorrect prediction"], "range": ["#c8c8c8", "#000000"]},
   "legend": {"title": null, "orient": "none", "legendX": 380, "legendY": 16, "padding": 0, "labelFont": "Liberation Serif", "labelFontSize": 22, "labelLimit": 400, "labelColor": "#000000", "symbolType": "circle", "symbolSize": 20, "symbolStrokeWidth": 0, "symbolOpacity": 1, "labelOffset": 25, "rowPadding": 7}}}},
{"data": {"name": "aI"}, "transform": [{"calculate": "100 - datum.s - datum.c/2", "as": "x"}],
 "mark": {"type": "point", "filled": true, "size": 20, "opacity": 1},
 "encoding": {"x": {"field": "x", "type": "quantitative", "scale": {"domain": [-5.838, 111.3], "nice": false, "zero": false}, "axis": null},
  "y": {"field": "c", "type": "quantitative", "scale": {"domain": [-14.035, 108.33], "nice": false, "zero": false}, "axis": null},
  "color": {"datum": "Incorrect prediction", "type": "nominal"}}},
{"data": {"name": "edges"}, "transform": [{"calculate": "100 - datum.s - datum.c/2", "as": "x"}, {"calculate": "100 - datum.s2 - datum.c2/2", "as": "x2"}],
 "mark": {"type": "rule", "color": "#000000", "strokeWidth": 1.8},
 "encoding": {"x": {"field": "x", "type": "quantitative"}, "x2": {"field": "x2"}, "y": {"field": "c", "type": "quantitative"}, "y2": {"field": "c2"}}},
{"data": {"name": "linesA"}, "transform": [{"calculate": "100 - datum.s - datum.c/2", "as": "x"}, {"calculate": "100 - datum.s2 - datum.c2/2", "as": "x2"}],
 "mark": {"type": "rule", "color": "#000000", "strokeWidth": 1.3},
 "encoding": {"x": {"field": "x", "type": "quantitative"}, "x2": {"field": "x2"}, "y": {"field": "c", "type": "quantitative"}, "y2": {"field": "c2"}}},
{"data": {"name": "ticks"}, "transform": [{"calculate": "100 - datum.s - datum.c/2", "as": "x"}, {"calculate": "100 - datum.s2 - datum.c2/2", "as": "x2"}],
 "mark": {"type": "rule", "color": "#000000", "strokeWidth": 1.4},
 "encoding": {"x": {"field": "x", "type": "quantitative"}, "x2": {"field": "x2"}, "y": {"field": "c", "type": "quantitative"}, "y2": {"field": "c2"}}},
{"data": {"name": "tlL"}, "mark": {"type": "text", "font": "Liberation Serif", "fontSize": 16, "align": "right", "baseline": "middle", "color": "#000000"},
 "encoding": {"x": {"field": "x", "type": "quantitative"}, "y": {"field": "y", "type": "quantitative"}, "text": {"field": "t"}}},
{"data": {"name": "tlR"}, "mark": {"type": "text", "font": "Liberation Serif", "fontSize": 16, "align": "center", "baseline": "middle", "color": "#000000"},
 "encoding": {"x": {"field": "x", "type": "quantitative"}, "y": {"field": "y", "type": "quantitative"}, "text": {"field": "t"}}},
{"data": {"name": "tlB"}, "mark": {"type": "text", "font": "Liberation Serif", "fontSize": 16, "align": "center", "baseline": "middle", "color": "#000000"},
 "encoding": {"x": {"field": "x", "type": "quantitative"}, "y": {"field": "y", "type": "quantitative"}, "text": {"field": "t"}}},
{"data": {"name": "ttB"}, "mark": {"type": "text", "font": "Liberation Serif", "fontSize": 16, "align": "center", "baseline": "middle", "color": "#000000"},
 "encoding": {"x": {"field": "x", "type": "quantitative"}, "y": {"field": "y", "type": "quantitative"}, "text": {"field": "t"}}},
{"data": {"name": "ttL"}, "mark": {"type": "text", "font": "Liberation Serif", "fontSize": 16, "align": "center", "baseline": "middle", "angle": -60, "color": "#000000"},
 "encoding": {"x": {"field": "x", "type": "quantitative"}, "y": {"field": "y", "type": "quantitative"}, "text": {"field": "t"}}},
{"data": {"name": "ttR"}, "mark": {"type": "text", "font": "Liberation Serif", "fontSize": 16, "align": "center", "baseline": "middle", "angle": 60, "color": "#000000"},
 "encoding": {"x": {"field": "x", "type": "quantitative"}, "y": {"field": "y", "type": "quantitative"}, "text": {"field": "t"}}},
{"data": {"name": "regA"}, "mark": {"type": "text", "font": "Liberation Serif", "fontSize": 10.5, "align": "center", "baseline": "middle", "color": "#000000"},
 "encoding": {"x": {"field": "x", "type": "quantitative"}, "y": {"field": "y", "type": "quantitative"}, "text": {"field": "t"}}},
{"data": {"name": "tagA"}, "mark": {"type": "text", "font": "Liberation Serif", "fontSize": 18, "align": "left", "baseline": "middle", "color": "#000000"},
 "encoding": {"x": {"field": "x", "type": "quantitative"}, "y": {"field": "y", "type": "quantitative"}, "text": {"field": "t"}}}
]
},
{
"width": 605, "height": 558,
"layer": [
{"data": {"name": "bC"}, "transform": [{"calculate": "100 - datum.s - datum.c/2", "as": "x"}],
 "mark": {"type": "point", "filled": true, "size": 16, "opacity": 1},
 "encoding": {"x": {"field": "x", "type": "quantitative", "scale": {"domain": [-5.838, 108.1], "nice": false, "zero": false}, "axis": null},
  "y": {"field": "c", "type": "quantitative", "scale": {"domain": [-14.035, 108.33], "nice": false, "zero": false}, "axis": null},
  "color": {"datum": "Correct prediction", "type": "nominal", "scale": {"domain": ["Correct prediction", "Incorrect prediction"], "range": ["#c8c8c8", "#000000"]},
   "legend": {"title": null, "orient": "none", "legendX": 380, "legendY": 16, "padding": 0, "labelFont": "Liberation Serif", "labelFontSize": 22, "labelLimit": 400, "labelColor": "#000000", "symbolType": "circle", "symbolSize": 20, "symbolStrokeWidth": 0, "symbolOpacity": 1, "labelOffset": 25, "rowPadding": 7}}}},
{"data": {"name": "bI"}, "transform": [{"calculate": "100 - datum.s - datum.c/2", "as": "x"}],
 "mark": {"type": "point", "filled": true, "size": 20, "opacity": 1},
 "encoding": {"x": {"field": "x", "type": "quantitative", "scale": {"domain": [-5.838, 108.1], "nice": false, "zero": false}, "axis": null},
  "y": {"field": "c", "type": "quantitative", "scale": {"domain": [-14.035, 108.33], "nice": false, "zero": false}, "axis": null},
  "color": {"datum": "Incorrect prediction", "type": "nominal"}}},
{"data": {"name": "edges"}, "transform": [{"calculate": "100 - datum.s - datum.c/2", "as": "x"}, {"calculate": "100 - datum.s2 - datum.c2/2", "as": "x2"}],
 "mark": {"type": "rule", "color": "#000000", "strokeWidth": 1.8},
 "encoding": {"x": {"field": "x", "type": "quantitative"}, "x2": {"field": "x2"}, "y": {"field": "c", "type": "quantitative"}, "y2": {"field": "c2"}}},
{"data": {"name": "linesB"}, "transform": [{"calculate": "100 - datum.s - datum.c/2", "as": "x"}, {"calculate": "100 - datum.s2 - datum.c2/2", "as": "x2"}],
 "mark": {"type": "rule", "color": "#000000", "strokeWidth": 1.3},
 "encoding": {"x": {"field": "x", "type": "quantitative"}, "x2": {"field": "x2"}, "y": {"field": "c", "type": "quantitative"}, "y2": {"field": "c2"}}},
{"data": {"name": "ticks"}, "transform": [{"calculate": "100 - datum.s - datum.c/2", "as": "x"}, {"calculate": "100 - datum.s2 - datum.c2/2", "as": "x2"}],
 "mark": {"type": "rule", "color": "#000000", "strokeWidth": 1.4},
 "encoding": {"x": {"field": "x", "type": "quantitative"}, "x2": {"field": "x2"}, "y": {"field": "c", "type": "quantitative"}, "y2": {"field": "c2"}}},
{"data": {"name": "tlL"}, "mark": {"type": "text", "font": "Liberation Serif", "fontSize": 16, "align": "right", "baseline": "middle", "color": "#000000"},
 "encoding": {"x": {"field": "x", "type": "quantitative"}, "y": {"field": "y", "type": "quantitative"}, "text": {"field": "t"}}},
{"data": {"name": "tlR"}, "mark": {"type": "text", "font": "Liberation Serif", "fontSize": 16, "align": "center", "baseline": "middle", "color": "#000000"},
 "encoding": {"x": {"field": "x", "type": "quantitative"}, "y": {"field": "y", "type": "quantitative"}, "text": {"field": "t"}}},
{"data": {"name": "tlB"}, "mark": {"type": "text", "font": "Liberation Serif", "fontSize": 16, "align": "center", "baseline": "middle", "color": "#000000"},
 "encoding": {"x": {"field": "x", "type": "quantitative"}, "y": {"field": "y", "type": "quantitative"}, "text": {"field": "t"}}},
{"data": {"name": "ttB"}, "mark": {"type": "text", "font": "Liberation Serif", "fontSize": 16, "align": "center", "baseline": "middle", "color": "#000000"},
 "encoding": {"x": {"field": "x", "type": "quantitative"}, "y": {"field": "y", "type": "quantitative"}, "text": {"field": "t"}}},
{"data": {"name": "ttL"}, "mark": {"type": "text", "font": "Liberation Serif", "fontSize": 16, "align": "center", "baseline": "middle", "angle": -60, "color": "#000000"},
 "encoding": {"x": {"field": "x", "type": "quantitative"}, "y": {"field": "y", "type": "quantitative"}, "text": {"field": "t"}}},
{"data": {"name": "ttR"}, "mark": {"type": "text", "font": "Liberation Serif", "fontSize": 16, "align": "center", "baseline": "middle", "angle": 60, "color": "#000000"},
 "encoding": {"x": {"field": "x", "type": "quantitative"}, "y": {"field": "y", "type": "quantitative"}, "text": {"field": "t"}}},
{"data": {"name": "regB"}, "mark": {"type": "text", "font": "Liberation Serif", "fontSize": 10.5, "align": "center", "baseline": "middle", "color": "#000000"},
 "encoding": {"x": {"field": "x", "type": "quantitative"}, "y": {"field": "y", "type": "quantitative"}, "text": {"field": "t"}}},
{"data": {"name": "tagB"}, "mark": {"type": "text", "font": "Liberation Serif", "fontSize": 18, "align": "left", "baseline": "middle", "color": "#000000"},
 "encoding": {"x": {"field": "x", "type": "quantitative"}, "y": {"field": "y", "type": "quantitative"}, "text": {"field": "t"}}}
]
}
]
}
